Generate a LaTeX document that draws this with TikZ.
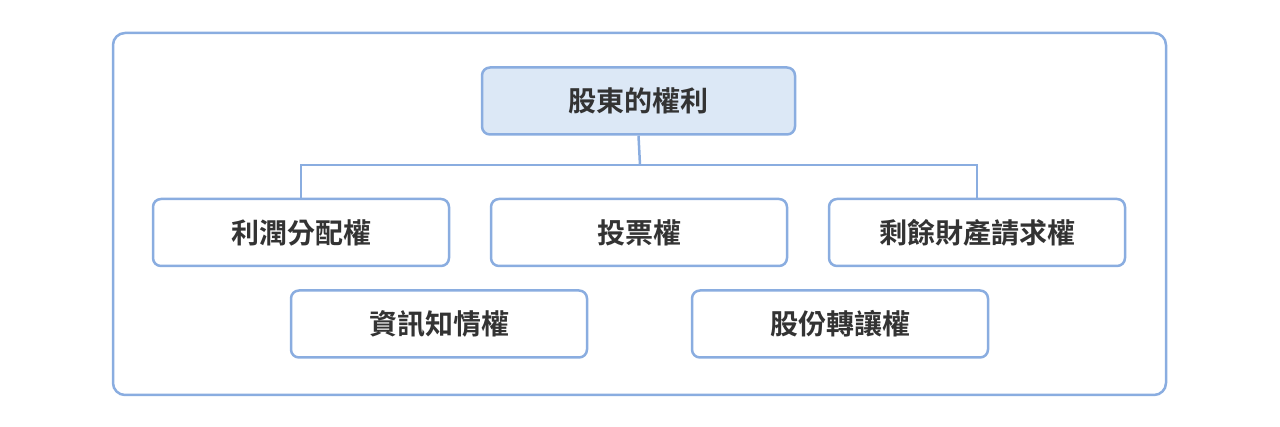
\documentclass[tikz,border=0pt]{standalone}
\usepackage{fontspec}
\newfontfamily\cjk{Noto Sans CJK TC Bold}
\definecolor{bd}{HTML}{8AADE0}
\definecolor{fl}{HTML}{DCE8F6}
\definecolor{tx}{HTML}{333333}
\begin{document}
\begin{tikzpicture}[x=1pt,y=-1pt,
  box/.style={draw=bd,line width=2.5pt,rounded corners=8pt,fill=white,minimum width=296pt,minimum height=67pt,inner sep=0pt,text=tx,font=\cjk\fontsize{28}{30}\selectfont},
  conn/.style={draw=bd,line width=2.5pt}]
\useasboundingbox (0,0) rectangle (1280,427);
\draw[bd,line width=2.5pt,rounded corners=12pt] (113,33) rectangle (1166,395);
\node[box,fill=fl,minimum width=313pt] (top) at (638.5,101) {股東的權利};
\node[box] (a) at (301,232.5) {利潤分配權};
\node[box] (b) at (639,232.5) {投票權};
\node[box] (c) at (977,232.5) {剩餘財產請求權};
\node[box] (d) at (439,324) {資訊知情權};
\node[box] (e) at (840,324) {股份轉讓權};
\coordinate (m) at (640,165);
\draw[conn] (top.south) -- (m);
\draw[conn] (a.north) |- (m) -| (c.north);
\end{tikzpicture}
\end{document}
